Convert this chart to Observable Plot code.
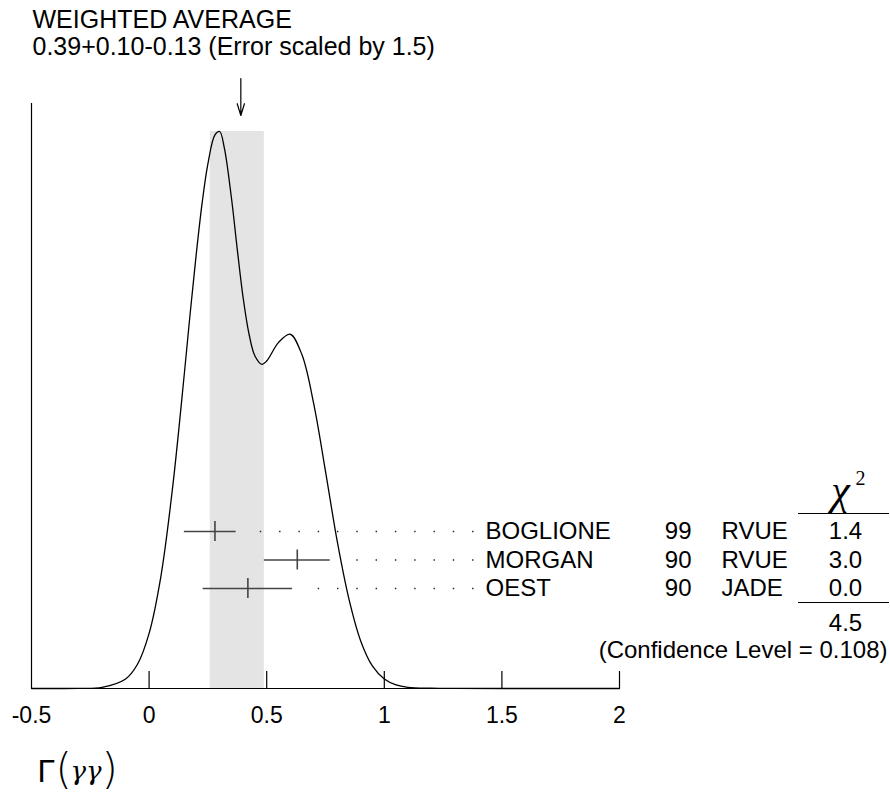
<!DOCTYPE html>
<html>
<head>
<meta charset="utf-8">
<script src="https://cdn.jsdelivr.net/npm/d3@7"></script>
<script src="https://cdn.jsdelivr.net/npm/@observablehq/plot@0.6"></script>
<style>
  html, body { margin: 0; padding: 0; background: #fff; }
  #chart svg { display: block; }
</style>
</head>
<body>
<div id="chart"></div>
<script>
// ---------- data ----------
const names = ["BOGLIONE", "MORGAN", "OEST"];
const years = ["99", "90", "90"];
const techs = ["RVUE", "RVUE", "JADE"];
const values = [0.28, 0.63, 0.42];
const errPlus = [0.09, 0.14, 0.19];
const errMinus = [0.13, 0.14, 0.19];
const chi2 = ["1.4", "3.0", "0.0"];
const chi2Total = "4.5";
const confidenceLevel = "0.108";

const average = 0.39;
const averagePlus = 0.10;
const averageMinus = 0.13;
const errorScale = 1.5;

const titleLines = [
  "WEIGHTED AVERAGE",
  `${average.toFixed(2)}+${averagePlus.toFixed(2)}-${averageMinus.toFixed(2)} (Error scaled by ${errorScale})`
];

const tickValues = [-0.5, 0, 0.5, 1, 1.5, 2];

// ideogram curve (relative height)
const curveX = [-0.5, -0.4, -0.3, -0.2, -0.1, -0.05, 0, 0.05, 0.1, 0.15, 0.175, 0.2, 0.225, 0.25, 0.28, 0.30, 0.32, 0.35, 0.375, 0.40, 0.425, 0.45, 0.48, 0.50, 0.55, 0.60, 0.65, 0.70, 0.75, 0.80, 0.85, 0.90, 0.95, 1.0, 1.05, 1.1, 1.2, 1.3, 1.5, 2.0];
const curveY = [0.0, 0.0, 0.0002, 0.0021, 0.017, 0.043, 0.099, 0.201, 0.361, 0.566, 0.675, 0.778, 0.870, 0.942, 0.994, 1.000, 0.970, 0.881, 0.788, 0.701, 0.636, 0.597, 0.582, 0.588, 0.621, 0.636, 0.599, 0.511, 0.390, 0.264, 0.160, 0.085, 0.040, 0.017, 0.0064, 0.0022, 0.0005, 0.0001, 0.0, 0.0];

// ---------- build tables ----------
const rows = names.map((n, i) => ({
  i, name: n, year: years[i], tech: techs[i], value: values[i],
  lo: values[i] - errMinus[i], hi: values[i] + errPlus[i], chi2: chi2[i]
}));
const curve = curveX.map((x, i) => ({x, y: curveY[i]}));
const band = [{lo: average - averageMinus, hi: average + averagePlus}];

// ---------- layout helpers (pixel layout -> scale units) ----------
const W = 890, H = 795;
const mL = 31, mR = 271, mT = 131, mB = 107;
const xDom = [-0.5, 2];
const xd = px => xDom[0] + (px - mL) * (xDom[1] - xDom[0]) / (W - mL - mR);
const yd = py => (H - mB - py) / (H - mB - mT);
const FS = 24;
const mid = (baseline, fs = FS) => yd(baseline - 0.32 * fs);
const rowPx = i => 531 + i * 28.5;
const rowY = d => yd(rowPx(d.i));
const font = "'Liberation Sans', Arial, Helvetica, sans-serif";
const serif = "'Liberation Serif', 'Times New Roman', serif";
const thin = "'DejaVu Sans ExtraLight', 'DejaVu Sans', sans-serif";

const chart = Plot.plot({
  width: W, height: H,
  marginLeft: mL, marginRight: mR, marginTop: mT, marginBottom: mB,
  x: {domain: xDom},
  y: {domain: [0, 1], axis: null},
  style: {fontFamily: font, background: "#fff", color: "#000", overflow: "visible"},
  marks: [
    // shaded average band
    Plot.rect(band, {x1: "lo", x2: "hi", y1: 0, y2: 1, fill: "#e4e4e4"}),
    // ideogram
    Plot.line(curve, {x: "x", y: "y", curve: "catmull-rom", stroke: "#000", strokeWidth: 1.3}),
    // axes lines
    Plot.ruleY([0], {x1: xDom[0], x2: xDom[1], stroke: "#000", strokeWidth: 1.2}),
    Plot.ruleX([xDom[0]], {y1: 0, y2: yd(103), stroke: "#000", strokeWidth: 1.2}),
    Plot.ruleX(tickValues.filter(v => v > xDom[0]), {y1: 0, y2: yd(671), stroke: "#000", strokeWidth: 1.2}),
    Plot.axisX({ticks: tickValues, tickSize: 0, tickPadding: 18, fontSize: 23, tickFormat: d => String(d), fill: "#000"}),
    // dotted leaders (dash pattern anchored at the label end)
    Plot.link(rows, {x1: xd(473), x2: d => d.hi + xd(51) - xd(31), y1: rowY, y2: rowY,
      stroke: "#222", strokeWidth: 1.4, strokeDasharray: "1.4 17.9"}),
    // error bars
    Plot.ruleY(rows, {y: rowY, x1: "lo", x2: "hi", stroke: "#444", strokeWidth: 1.6}),
    Plot.ruleX(rows, {x: "value", y1: d => yd(rowPx(d.i) - 10), y2: d => yd(rowPx(d.i) + 10), stroke: "#444", strokeWidth: 1.6}),
    // table columns
    Plot.text(rows, {x: xd(485), y: rowY, text: "name", textAnchor: "start", fontSize: FS, fill: "#000"}),
    Plot.text(rows, {x: xd(691), y: rowY, text: "year", textAnchor: "end", fontSize: FS, fill: "#000"}),
    Plot.text(rows, {x: xd(721), y: rowY, text: "tech", textAnchor: "start", fontSize: FS, fill: "#000"}),
    Plot.text(rows, {x: xd(845), y: rowY, text: "chi2", textAnchor: "middle", fontSize: FS, fill: "#000"}),
    // chi^2 header
    Plot.text(["χ"], {x: xd(840), y: mid(503, 42), text: d => d, fontSize: 42, fontStyle: "italic", fontFamily: serif, textAnchor: "middle", fill: "#000"}),
    Plot.text(["2"], {x: xd(855), y: mid(484, 20), text: d => d, fontSize: 20, fontFamily: serif, textAnchor: "start", fill: "#000"}),
    Plot.ruleY([yd(513), yd(602)], {y: d => d, x1: xd(798), x2: xd(889), stroke: "#000", strokeWidth: 1.2}),
    Plot.text([chi2Total], {x: xd(845), y: mid(630), text: d => d, fontSize: FS, textAnchor: "middle", fill: "#000"}),
    Plot.text([`(Confidence Level = ${confidenceLevel})`], {x: xd(887), y: mid(657), text: d => d, fontSize: FS, textAnchor: "end", fill: "#000"}),
    // title
    Plot.text(titleLines, {x: xd(32), y: (d, i) => mid(27 + i * 27, 25), text: d => d, fontSize: 25, textAnchor: "start", fill: "#000"}),
    // arrow to the weighted average
    Plot.arrow([average], {x1: d => d, x2: d => d, y1: yd(78), y2: yd(115), stroke: "#000", strokeWidth: 1.2, headLength: 22, headAngle: 34}),
    // x label  Γ(γγ)
    Plot.text(["Γ"], {x: xd(37), y: mid(781, 32), text: d => d, fontSize: 32, textAnchor: "start", fill: "#000"}),
    Plot.text(["("], {x: xd(55), y: mid(783, 42), text: d => d, fontSize: 42, fontFamily: thin, fontWeight: 200, textAnchor: "start", fill: "#000"}),
    Plot.text([")"], {x: xd(101), y: mid(783, 42), text: d => d, fontSize: 42, fontFamily: thin, fontWeight: 200, textAnchor: "start", fill: "#000"}),
    Plot.text(["γγ"], {x: xd(70), y: mid(779, 26), text: d => d, fontSize: 26, fontStyle: "italic", fontFamily: "'DejaVu Serif', serif", textAnchor: "start", fill: "#000"})
  ]
});
document.getElementById("chart").append(chart);
</script>
</body>
</html>
